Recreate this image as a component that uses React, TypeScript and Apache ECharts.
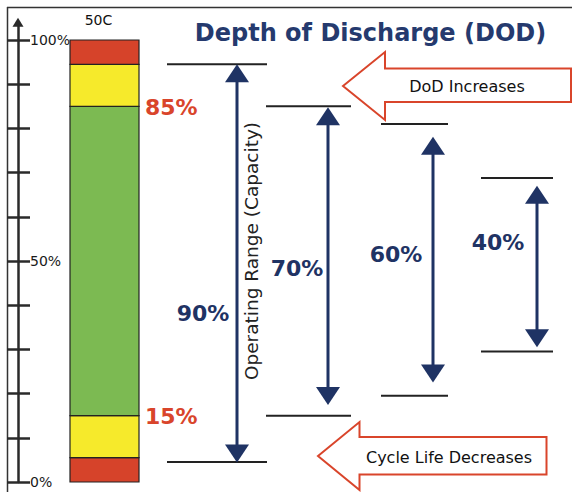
import React, { useEffect, useRef } from "react";
import * as echarts from "echarts";

// ---- data ----
const PCT_TICKS = [0, 10, 20, 30, 40, 50, 60, 70, 80, 90, 100];
const PCT_LABELS = [0, 50, 100];
const BAR_NAME = "50C";
const SEGMENTS = [5.5, 9.5, 70, 9.5, 5.5];
const MARKER_VALUES = [85, 15];
const MARKER_LABELS = ["85%", "15%"];
const RANGE_LABELS = ["90%", "70%", "60%", "40%"];
const RANGE_TOP = [94.5, 85, 81, 68.8];
const RANGE_BOTTOM = [4.5, 15, 19.5, 29.5];
const ARROW_TOP = [94.5, 84.8, 78.1, 67.0];
const ARROW_BOTTOM = [4.4, 17.4, 22.5, 30.5];
const LABEL_AT = [38.2, 48.4, 51.4, 54.1];
const TITLE = "Depth of Discharge (DOD)";
const AXIS_NAME = "Operating Range (Capacity)";
const NOTE_TOP = "DoD Increases";
const NOTE_BOTTOM = "Cycle Life Decreases";

// ---- layout / style ----
const SEG_COLORS = ["#d6432a", "#f6ea2b", "#7cba52", "#f6ea2b", "#d6432a"];
const NAVY = "#1f3364";
const RED = "#d9452b";
const FONT = "'DejaVu Sans', 'Open Sans', sans-serif";
const BAR_X = 104.5;
const BAR_W = 69;
const MARKER_X = 145;
const RANGE_LINE_X = [
  [167, 267],
  [266, 351],
  [381, 448],
  [481, 553],
];
const ARROW_X = [237, 328, 433, 537];
const LABEL_X = [203, 297, 396, 498];
const HEAD_W = 24;
const HEAD_H = 18;

export default function App() {
  const ref = useRef<HTMLDivElement>(null);
  useEffect(() => {
    if (!ref.current) return;
    const chart = echarts.init(ref.current, null, { renderer: "svg" });

    let acc = 0;
    const segData = SEGMENTS.map((v) => {
      const row = [acc, acc + v];
      acc += v;
      return row;
    });

    const rangeData = RANGE_TOP.map((t, i) => [t, RANGE_BOTTOM[i], ARROW_TOP[i], ARROW_BOTTOM[i], LABEL_AT[i]]);

    const option: any = {
      animation: false,
      grid: { left: 18, right: 0, top: 22.32, bottom: 10, containLabel: false },
      xAxis: { type: "value", min: 18, max: 572, show: false },
      yAxis: [
        {
          type: "value",
          min: 0,
          max: 104,
          position: "left",
          splitLine: { show: false },
          axisLine: {
            show: true,
            symbol: ["none", "triangle"],
            symbolSize: [11, 9],
            lineStyle: { color: "#2a2a2a", width: 2.5 },
          },
          axisTick: {
            show: true,
            inside: true,
            length: 12,
            customValues: PCT_TICKS,
            lineStyle: { color: "#2a2a2a", width: 2.5 },
          },
          axisLabel: {
            show: true,
            inside: true,
            margin: 12,
            customValues: PCT_LABELS,
            formatter: "{value}%",
            color: "#1a1a1a",
            fontFamily: FONT,
            fontSize: 14,
            padding: [0, 0, 5, 0],
          },
        },
        {
          type: "value",
          min: 0,
          max: 104,
          position: "left",
          splitLine: { show: false },
          axisLine: { show: false },
          axisTick: {
            show: true,
            inside: false,
            length: 11,
            customValues: PCT_TICKS,
            lineStyle: { color: "#2a2a2a", width: 2.5 },
          },
          axisLabel: { show: false },
        },
      ],
      series: [
        {
          type: "custom",
          data: segData,
          encode: { y: [0, 1] },
          renderItem: (params: any, api: any) => {
            const i = params.dataIndex;
            const p0 = api.coord([BAR_X, api.value(0)]);
            const p1 = api.coord([BAR_X, api.value(1)]);
            const children: any[] = [
              {
                type: "rect",
                shape: { x: BAR_X - BAR_W / 2, y: p1[1], width: BAR_W, height: p0[1] - p1[1] },
                style: { fill: SEG_COLORS[i], stroke: "#222", lineWidth: 1.2 },
              },
            ];
            if (i === SEGMENTS.length - 1) {
              children.push({
                type: "text",
                x: BAR_X - 6,
                y: p1[1] - 20,
                style: {
                  text: BAR_NAME,
                  fill: "#111",
                  fontFamily: FONT,
                  fontSize: 14,
                  align: "center",
                  verticalAlign: "middle",
                },
              });
            }
            return { type: "group", children };
          },
          z: 2,
        },
        {
          type: "custom",
          data: MARKER_VALUES.map((v) => [v]),
          encode: { y: 0 },
          renderItem: (params: any, api: any) => {
            const p = api.coord([MARKER_X, api.value(0)]);
            return {
              type: "text",
              x: p[0],
              y: p[1] + 1,
              style: {
                text: MARKER_LABELS[params.dataIndex],
                fill: RED,
                fontFamily: FONT,
                fontWeight: "bold",
                fontSize: 22,
                align: "left",
                verticalAlign: "middle",
              },
            };
          },
          z: 3,
        },
        {
          type: "custom",
          data: rangeData,
          encode: { y: 0 },
          renderItem: (params: any, api: any) => {
            const i = params.dataIndex;
            const [xl, xr] = RANGE_LINE_X[i];
            const ax = ARROW_X[i];
            const yTop = api.coord([xl, api.value(0)])[1];
            const yBot = api.coord([xl, api.value(1)])[1];
            const aTop = api.coord([ax, api.value(2)])[1];
            const aBot = api.coord([ax, api.value(3)])[1];
            const lbl = api.coord([LABEL_X[i], api.value(4)]);
            const lineStyle = { stroke: "#222", lineWidth: 2 };
            return {
              type: "group",
              children: [
                { type: "line", shape: { x1: xl, y1: yTop, x2: xr, y2: yTop }, style: lineStyle },
                { type: "line", shape: { x1: xl, y1: yBot, x2: xr, y2: yBot }, style: lineStyle },
                {
                  type: "line",
                  shape: { x1: ax, y1: aTop + HEAD_H - 1, x2: ax, y2: aBot - HEAD_H + 1 },
                  style: { stroke: NAVY, lineWidth: 3 },
                },
                {
                  type: "polygon",
                  shape: {
                    points: [
                      [ax, aTop],
                      [ax - HEAD_W / 2, aTop + HEAD_H],
                      [ax + HEAD_W / 2, aTop + HEAD_H],
                    ],
                  },
                  style: { fill: NAVY },
                },
                {
                  type: "polygon",
                  shape: {
                    points: [
                      [ax, aBot],
                      [ax - HEAD_W / 2, aBot - HEAD_H],
                      [ax + HEAD_W / 2, aBot - HEAD_H],
                    ],
                  },
                  style: { fill: NAVY },
                },
                {
                  type: "text",
                  x: lbl[0],
                  y: lbl[1],
                  style: {
                    text: RANGE_LABELS[i],
                    fill: NAVY,
                    fontFamily: FONT,
                    fontWeight: "bold",
                    fontSize: 22,
                    align: "center",
                    verticalAlign: "middle",
                  },
                },
              ],
            };
          },
          z: 3,
        },
      ],
      graphic: [
        { type: "line", shape: { x1: 7, y1: 7.5, x2: 572, y2: 7.5 }, style: { stroke: "#333", lineWidth: 1.5 } },
        { type: "line", shape: { x1: 7.5, y1: 7, x2: 7.5, y2: 492 }, style: { stroke: "#333", lineWidth: 1.5 } },
        {
          type: "text",
          x: 370.5,
          y: 33,
          style: {
            text: TITLE,
            fill: "#253a6e",
            fontFamily: FONT,
            fontWeight: "bold",
            fontSize: 24,
            align: "center",
            verticalAlign: "middle",
          },
        },
        {
          type: "text",
          x: 251,
          y: 251,
          rotation: Math.PI / 2,
          style: {
            text: AXIS_NAME,
            fill: "#222",
            fontFamily: FONT,
            fontSize: 18.5,
            align: "center",
            verticalAlign: "middle",
          },
        },
        {
          type: "polygon",
          shape: {
            points: [
              [343, 86],
              [385, 52],
              [385, 68.5],
              [571, 68.5],
              [571, 102],
              [385, 102],
              [385, 120],
            ],
          },
          style: { fill: "#fff", stroke: RED, lineWidth: 2 },
        },
        {
          type: "text",
          x: 467,
          y: 86,
          style: { text: NOTE_TOP, fill: "#111", fontFamily: FONT, fontSize: 16, align: "center", verticalAlign: "middle" },
        },
        {
          type: "polygon",
          shape: {
            points: [
              [318, 456],
              [359.5, 422],
              [359.5, 437],
              [546.5, 437],
              [546.5, 474.5],
              [359.5, 474.5],
              [359.5, 490],
            ],
          },
          style: { fill: "#fff", stroke: RED, lineWidth: 2 },
        },
        {
          type: "text",
          x: 449,
          y: 457.5,
          style: { text: NOTE_BOTTOM, fill: "#111", fontFamily: FONT, fontSize: 16, align: "center", verticalAlign: "middle" },
        },
      ],
    };
    chart.setOption(option);
    return () => chart.dispose();
  }, []);
  return <div ref={ref} style={{ position: "fixed", left: 0, top: 0, width: 572, height: 492, background: "#fff" }} />;
}
